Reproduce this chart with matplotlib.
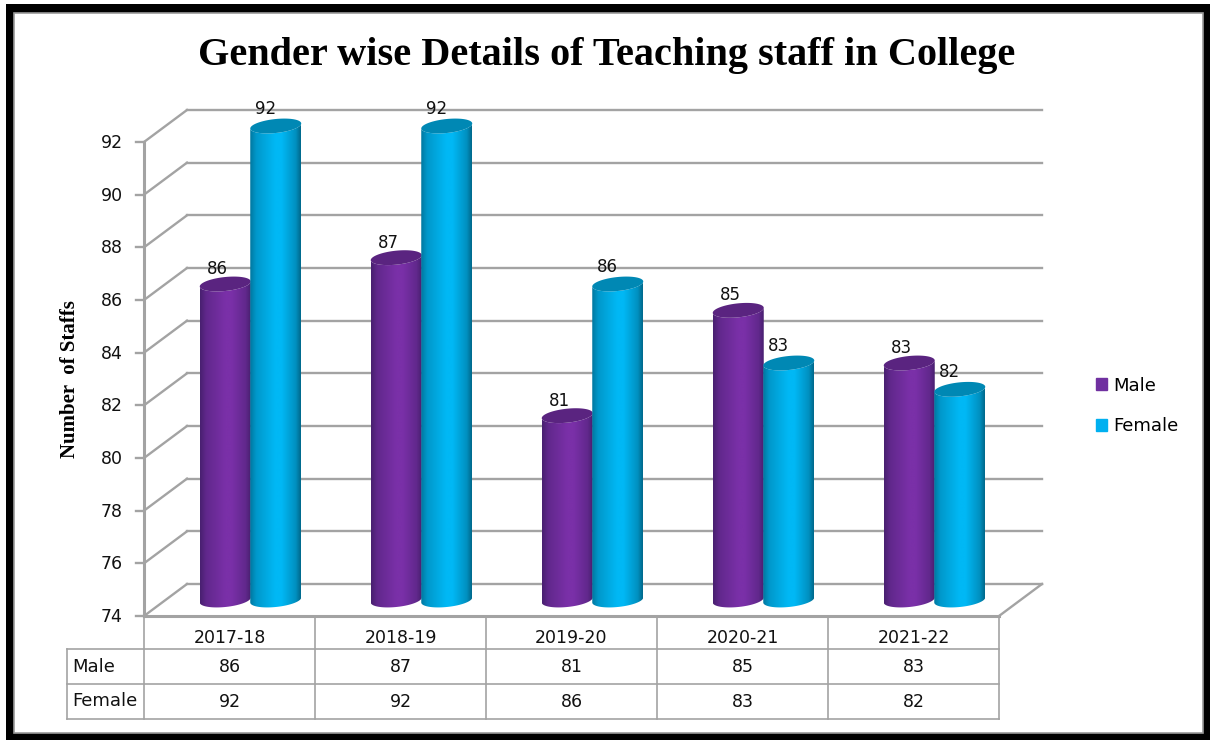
import matplotlib
matplotlib.use('Agg')
import matplotlib.pyplot as plt
import numpy as np
from matplotlib.patches import PathPatch, Patch, Rectangle
from matplotlib.path import Path
from matplotlib.transforms import Affine2D

years = ['2017-18', '2018-19', '2019-20', '2020-21', '2021-22']
male = [86, 87, 81, 85, 83]
female = [92, 92, 86, 83, 82]
yticks = [74, 76, 78, 80, 82, 84, 86, 88, 90, 92]

GRID = '#a3a3a3'
INK = '#111111'
W, H = 1210, 740

fig = plt.figure(figsize=(W / 100, H / 100), dpi=100, facecolor='white')
ax = fig.add_axes([144 / W, (H - 616) / H, 855 / W, 474 / H])
ax.set_xlim(0, 5)
ax.set_ylim(74, 92)
ax.axis('off')

px_y = 18 / 474
px_x = 5 / 855

# the 3d look: back wall and cylinders are shifted from the front plane
back = ax.transData + Affine2D().translate(43, 32)
mid = ax.transData + Affine2D().translate(21, 16)
xtrans = ax.get_xaxis_transform()

for v in yticks:
    ax.plot([0, 5], [v, v], color=GRID, lw=1.7, transform=back, clip_on=False, zorder=1)
    x0, y0 = ax.transData.transform((0, v))
    x1, y1 = back.transform((0, v))
    ax.plot([x0, x1], [y0, y1], color=GRID, lw=1.7, transform=None, clip_on=False, zorder=1)
    ax.plot([x0 - 8, x0], [y0, y0], color=GRID, lw=1.7, transform=None, clip_on=False, zorder=1)
    ax.text(x0 - 21, y0 - 1, str(v), ha='right', va='center', fontsize=12.5, transform=None, color=INK)

# left wall edge, floor edge
ax.plot([0, 0], [74, 92], color=GRID, lw=2.2, clip_on=False, zorder=1.5)
ax.plot([0, 5], [74, 74], color=GRID, lw=2.2, clip_on=False, zorder=1.5)
x0, y0 = ax.transData.transform((5, 74))
x1, y1 = back.transform((5, 74))
ax.plot([x0, x1], [y0, y1], color=GRID, lw=1.7, transform=None, clip_on=False, zorder=1)


def gradient(dark_l, light, dark_r):
    stops = [0, 0.12, 0.5, 0.62, 0.9, 1]
    cols = np.array([dark_l, dark_l, light, light, dark_r, dark_r], dtype=float)
    cols[1] = (np.array(dark_l) + np.array(light)) / 2
    cols[4] = (np.array(dark_r) + np.array(light)) / 2
    t = np.linspace(0, 1, 100)
    row = np.stack([np.interp(t, stops, cols[:, i]) for i in range(3)], axis=1) / 255
    return row[np.newaxis, :, :]


def cylinder(cx, value, dark_l, light, dark_r, cap, z):
    a = 25.5 * px_x
    b = 7 * px_y
    tilt = 2.5 * px_y
    t = np.linspace(np.pi, 2 * np.pi, 40)
    low_x = cx + a * np.cos(t)
    bottom_y = 74 + b * np.sin(t) + tilt * np.cos(t)
    top_y = value + b * np.sin(t) + tilt * np.cos(t)
    xs = np.r_[low_x, low_x[::-1], low_x[0]]
    ys = np.r_[bottom_y, top_y[::-1], bottom_y[0]]
    body = PathPatch(Path(np.c_[xs, ys]), transform=mid, fc='none', ec='none')
    ax.add_patch(body)
    im = ax.imshow(gradient(dark_l, light, dark_r), extent=[cx - a, cx + a, 73, value + 1],
                   aspect='auto', transform=mid, zorder=z, interpolation='bilinear')
    im.set_clip_box(fig.bbox)
    im.set_clip_path(body)
    t = np.linspace(0, 2 * np.pi, 80)
    top = np.c_[cx + a * np.cos(t), value + b * np.sin(t) + tilt * np.cos(t)]
    ax.add_patch(PathPatch(Path(top), transform=mid, fc=cap, ec='none', zorder=z, clip_on=False))


width = 50.5 * px_x
for i in range(len(years)):
    cylinder(i + 0.5 - width / 2, male[i], (72, 32, 112), (122, 48, 168), (72, 32, 112), '#5a2480', 3)
    cylinder(i + 0.5 + width / 2, female[i], (0, 120, 160), (0, 184, 245), (0, 105, 140), '#0088b4', 4)

ax.set_xlim(0, 5)
ax.set_ylim(74, 92)

# value labels over the bars
lab_m = ax.transData + Affine2D().translate(13, 31)
lab_f = ax.transData + Affine2D().translate(11, 33)
for i in range(len(years)):
    ax.text(i + 0.5 - width / 2, male[i], str(male[i]), ha='center', va='center', fontsize=12,
            transform=lab_m, zorder=6, color=INK)
    ax.text(i + 0.5 + width / 2, female[i], str(female[i]), ha='center', va='center', fontsize=12,
            transform=lab_f, zorder=6, color=INK)

# data table under the plot
row_edges = [-33 / 474, -68 / 474, -103 / 474]
first_col = -77 * px_x
for i in range(6):
    ax.plot([i, i], [0, row_edges[2]], color=GRID, lw=1.2, transform=xtrans, clip_on=False)
ax.plot([first_col, first_col], [row_edges[0], row_edges[2]], color=GRID, lw=1.2, transform=xtrans, clip_on=False)
for r in row_edges:
    ax.plot([first_col, 5], [r, r], color=GRID, lw=1.2, transform=xtrans, clip_on=False)

row_mid = [-22 / 474, -51 / 474, -86 / 474]
for i in range(len(years)):
    ax.text(i + 0.5, row_mid[0], years[i], ha='center', va='center', fontsize=12.5, transform=xtrans, color=INK)
    ax.text(i + 0.5, row_mid[1], str(male[i]), ha='center', va='center', fontsize=12.5, transform=xtrans, color=INK)
    ax.text(i + 0.5, row_mid[2], str(female[i]), ha='center', va='center', fontsize=12.5, transform=xtrans, color=INK)
ax.text(first_col + 5 * px_x, row_mid[1], 'Male', ha='left', va='center', fontsize=13, transform=xtrans, color=INK)
ax.text(first_col + 5 * px_x, row_mid[2] + 1 / 474, 'Female', ha='left', va='center', fontsize=13, transform=xtrans, color=INK)

handles = [Patch(color='#7030a0', label='Male'), Patch(color='#00b0f0', label='Female')]
fig.legend(handles=handles, loc='center left', bbox_to_anchor=(1096 / W, (H - 406) / H), frameon=False,
           fontsize=13, handlelength=0.62, handleheight=0.62, handletextpad=0.35, labelspacing=1.26,
           borderpad=0, borderaxespad=0)

fig.text(607 / W, (H - 56) / H, 'Gender wise Details of Teaching staff in College', ha='center', va='center',
         fontsize=29, fontweight='bold', family='Liberation Serif')
fig.text(70 / W, (H - 379) / H, 'Number  of Staffs', rotation=90, ha='center', va='center',
         fontsize=15, fontweight='bold', family='Liberation Serif')

# picture frame
fig.add_artist(Rectangle((6 / W, 0), (W - 6) / W, (H - 4) / H, transform=fig.transFigure, fc='black', ec='none', zorder=-3))
fig.add_artist(Rectangle((14 / W, 7 / H), 1189 / W, 720 / H, transform=fig.transFigure, fc='white', ec='#9a9a9a', lw=1.2, zorder=-2))

fig.savefig('out.png', dpi=100)
